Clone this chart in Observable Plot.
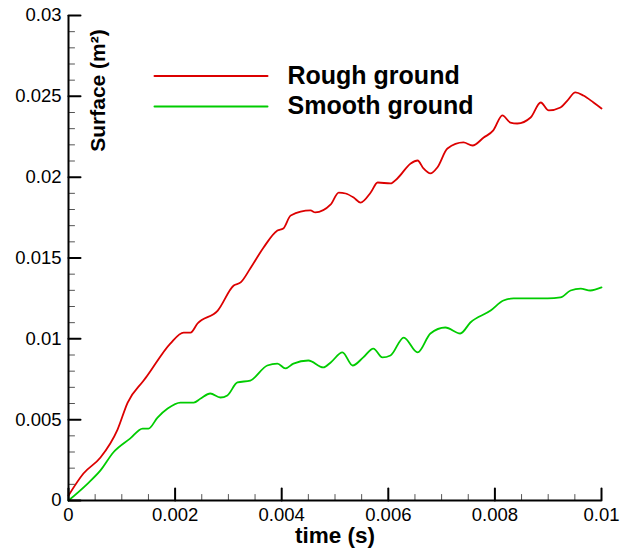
<!DOCTYPE html>
<html><head><meta charset="utf-8">
<script src="https://cdn.jsdelivr.net/npm/d3@7"></script>
<script src="https://cdn.jsdelivr.net/npm/@observablehq/plot@0.6"></script>
<style>body{margin:0;background:#fff}</style>
</head><body><div id="chart"></div>
<script>
const roughT = [0,0.00028,0.0006,0.00092,0.00111,0.00141,0.00148,0.00191,0.00216,0.00229,0.00242,0.0028,0.0031,0.00323,0.00341,0.00366,0.00392,0.00403,0.00417,0.00454,0.00463,0.00492,0.00507,0.0052,0.00535,0.00548,0.00567,0.0058,0.00604,0.00617,0.00642,0.00655,0.00666,0.00679,0.00692,0.00711,0.00741,0.00758,0.00779,0.00797,0.00814,0.00829,0.00842,0.00867,0.00886,0.00901,0.00923,0.00936,0.00951,0.00966,0.00985,0.01];
const roughV = [0.00031,0.00167,0.00266,0.00439,0.00606,0.00742,0.00773,0.00971,0.01039,0.01039,0.01095,0.01175,0.0133,0.01349,0.01435,0.01565,0.0167,0.01683,0.01763,0.01794,0.01782,0.01831,0.01905,0.01899,0.01874,0.01843,0.01905,0.01967,0.01961,0.01992,0.02085,0.02103,0.02054,0.02023,0.0206,0.02177,0.02215,0.02196,0.02245,0.02289,0.02382,0.02338,0.02332,0.02369,0.02462,0.02413,0.02431,0.02474,0.02524,0.02505,0.02462,0.02425];
const smoothT = [0,0.00036,0.0006,0.00084,0.00116,0.00139,0.0015,0.00167,0.00186,0.0021,0.00235,0.00248,0.00266,0.00285,0.00298,0.00317,0.00341,0.00373,0.00392,0.00407,0.00422,0.0045,0.00478,0.00492,0.00514,0.00533,0.00553,0.00572,0.00589,0.00604,0.00629,0.00655,0.00679,0.00707,0.00735,0.00754,0.00792,0.00816,0.00835,0.00867,0.00899,0.00923,0.00942,0.00961,0.00979,0.01];
const smoothV = [0,0.00105,0.00186,0.00297,0.00384,0.00445,0.00445,0.00513,0.00569,0.00606,0.00606,0.00631,0.00662,0.00637,0.0065,0.0073,0.00742,0.00835,0.00847,0.00817,0.00847,0.00866,0.00823,0.00854,0.00916,0.00835,0.00885,0.0094,0.00885,0.00897,0.01008,0.00916,0.01033,0.0107,0.01033,0.01101,0.01175,0.01237,0.0125,0.0125,0.0125,0.01256,0.01299,0.01311,0.01299,0.01318];
const seriesNames = ["Rough ground", "Smooth ground"];
const seriesColors = ["#dc0000", "#00cc00"];
const xMajor = [0,0.002,0.004,0.006,0.008,0.01];
const xMinor = [0.0005,0.001,0.0015,0.0025,0.003,0.0035,0.0045,0.005,0.0055,0.0065,0.007,0.0075,0.0085,0.009,0.0095];
const yMajor = [0,0.005,0.01,0.015,0.02,0.025,0.03];
const yMinor = [0.001,0.002,0.003,0.004,0.006,0.007,0.008,0.009,0.011,0.012,0.013,0.014,0.016,0.017,0.018,0.019,0.021,0.022,0.023,0.024,0.026,0.027,0.028,0.029];
const xTitle = "time (s)";
const yTitle = "Surface (m²)";

const rows = [
  ...roughT.map((t, i) => ({t, v: roughV[i], s: seriesNames[0]})),
  ...smoothT.map((t, i) => ({t, v: smoothV[i], s: seriesNames[1]}))
];
const fmt = d => d === 0 ? "0" : String(+d.toFixed(4));
const lineShape = {draw(ctx, l) { ctx.moveTo(0, 0); ctx.lineTo(0, -l); }};

const legendMarks = seriesNames.flatMap((name, i) => [
  Plot.vector([name], {frameAnchor: "top-left", dx: 86, dy: 60.5 + 30.5 * i, length: 113, rotate: 90, anchor: "start", shape: lineShape, stroke: seriesColors[i], strokeWidth: 2}),
  Plot.text([name], {frameAnchor: "top-left", dx: 219, dy: 60.5 + 30 * i, textAnchor: "start", lineAnchor: "middle", fontWeight: "bold", fontSize: 25, fill: "#000"})
]);

const chart = Plot.plot({
  width: 630, height: 549,
  marginLeft: 68, marginRight: 29, marginTop: 15, marginBottom: 49,
  style: {fontFamily: "'Liberation Sans', Arial, sans-serif", fontSize: "18.5px", color: "#000", background: "#fff"},
  x: {domain: [0, 0.01]},
  y: {domain: [0, 0.03]},
  color: {domain: seriesNames, range: seriesColors},
  marks: [
    Plot.line(rows, {x: "t", y: "v", z: "s", stroke: "s", strokeWidth: 1.8, curve: "monotone-x"}),
    Plot.vector(xMinor, {x: d => d, frameAnchor: "bottom", length: 6, anchor: "start", shape: lineShape, stroke: "#555", strokeWidth: 1}),
    Plot.vector(xMajor, {x: d => d, frameAnchor: "bottom", length: 12, anchor: "start", shape: lineShape, stroke: "#000", strokeWidth: 2}),
    Plot.vector(yMinor, {y: d => d, frameAnchor: "left", length: 6, rotate: 90, anchor: "start", shape: lineShape, stroke: "#555", strokeWidth: 1}),
    Plot.vector(yMajor, {y: d => d, frameAnchor: "left", length: 12, rotate: 90, anchor: "start", shape: lineShape, stroke: "#000", strokeWidth: 2}),
    Plot.axisX(xMajor, {tickSize: 0, tickPadding: 7, stroke: "none", tickFormat: fmt, label: null, fontSize: 18.5}),
    Plot.axisY(yMajor, {tickSize: 0, tickPadding: 7, stroke: "none", tickFormat: fmt, label: null, fontSize: 18.5}),
    Plot.ruleX([0], {stroke: "#000", strokeWidth: 2}),
    Plot.ruleY([0], {stroke: "#000", strokeWidth: 2}),
    Plot.text([xTitle], {frameAnchor: "bottom", dy: 35, lineAnchor: "middle", textAnchor: "middle", fontWeight: "bold", fontSize: 22.5, fill: "#000"}),
    Plot.text([yTitle], {frameAnchor: "top-left", dx: 30, dy: 75, rotate: -90, lineAnchor: "middle", textAnchor: "middle", fontWeight: "bold", fontSize: 21, fill: "#000"}),
    ...legendMarks
  ]
});
document.getElementById("chart").append(chart);
</script>
</body></html>
